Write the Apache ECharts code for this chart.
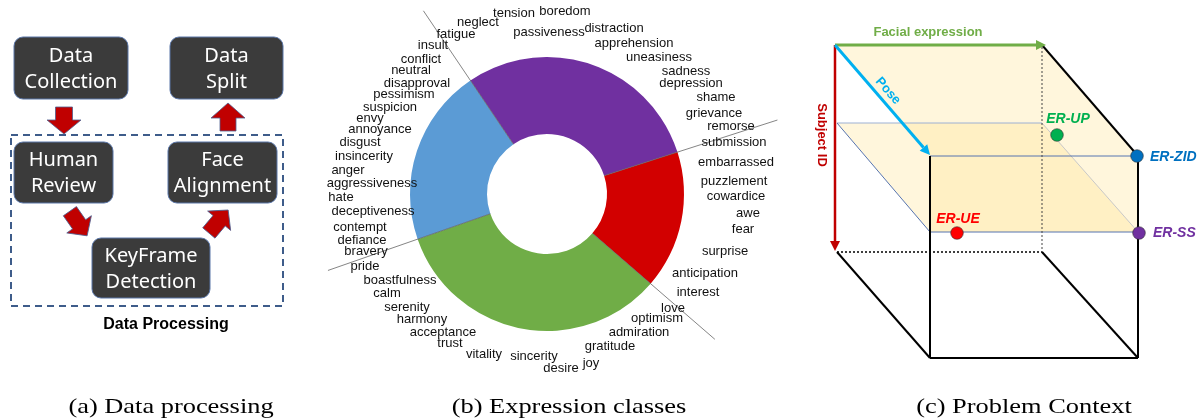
<!DOCTYPE html>
<html>
<head>
<meta charset="utf-8">
<title>Data processing / Expression classes / Problem context</title>
<script src="https://cdn.jsdelivr.net/npm/echarts@6/dist/echarts.min.js"></script>
<style>
  html, body { margin: 0; padding: 0; background: #fff; }
  #chart { width: 1198px; height: 419px; }
</style>
</head>
<body>
<div id="chart"></div>
<script>
// donut slices, clockwise from the upper-left divider
const classNames = ['purple', 'red', 'green', 'blue'];
const classShares = [29.5, 16.3, 33.3, 20.9];

// expression words around each slice
const purpleWords = ['neglect', 'fatigue', 'tension', 'boredom', 'passiveness', 'distraction', 'apprehension',
  'uneasiness', 'sadness', 'depression', 'shame', 'grievance', 'remorse'];
const redWords = ['submission', 'embarrassed', 'puzzlement', 'cowardice', 'awe', 'fear', 'surprise',
  'anticipation', 'interest'];
const greenWords = ['love', 'optimism', 'admiration', 'gratitude', 'joy', 'desire', 'sincerity', 'vitality',
  'trust', 'acceptance', 'harmony', 'serenity', 'calm', 'boastfulness', 'pride', 'bravery'];
const blueWords = ['defiance', 'contempt', 'deceptiveness', 'hate', 'aggressiveness', 'anger', 'insincerity',
  'disgust', 'annoyance', 'envy', 'suspicion', 'pessimism', 'disapproval', 'neutral', 'conflict', 'insult'];

// pipeline steps (panel a) and problem settings (panel c)
const steps = ['Data\nCollection', 'Data\nSplit', 'Human\nReview', 'Face\nAlignment', 'KeyFrame\nDetection'];
const settings = ['ER-UP', 'ER-ZID', 'ER-UE', 'ER-SS'];
const captions = ['(a) Data processing', '(b) Expression classes', '(c) Problem Context'];

// ---- styles / layout ----
const classColors = ['#7030A0', '#D20000', '#70AD47', '#5B9BD5'];
const pieCenter = [547, 194];
const pieRadius = [60, 137];
const pieStart = 124;
const dividerReach = [221, 242, 222, 232];

const wordPos = {
  neglect: [478, 22], fatigue: [456, 34], insult: [433, 45], conflict: [421, 59], neutral: [411, 70],
  disapproval: [417, 83], pessimism: [404, 94], suspicion: [390, 107], envy: [370, 118], annoyance: [380, 129],
  disgust: [360, 142], insincerity: [364, 156], anger: [348, 170], aggressiveness: [372, 183], hate: [341, 197],
  deceptiveness: [373, 211], contempt: [360, 227], defiance: [362, 240], bravery: [366, 251], pride: [365, 266],
  boastfulness: [400, 280], calm: [387, 293], serenity: [407, 307], harmony: [422, 319], acceptance: [443, 332],
  trust: [450, 343], vitality: [484, 354], sincerity: [534, 356], desire: [561, 368], joy: [591, 363],
  gratitude: [610, 346], admiration: [639, 332], optimism: [657, 318], love: [673, 308], interest: [698, 292],
  anticipation: [705, 273], surprise: [725, 251], fear: [743, 229], awe: [748, 213], cowardice: [736, 196],
  puzzlement: [734, 181], embarrassed: [736, 162], submission: [734, 142], remorse: [731, 126],
  grievance: [714, 113], shame: [716, 97], depression: [691, 83], sadness: [686, 71], uneasiness: [659, 57],
  apprehension: [634, 43], distraction: [614, 28], passiveness: [549, 32], tension: [514, 13], boredom: [565, 11]
};

const stepBoxes = [
  [14, 37, 114, 62], [170, 37, 113, 62], [14, 142, 99, 61], [168, 142, 109, 61], [92, 238, 118, 60]
];
const settingStyle = {
  'ER-UP': { dot: [1057, 135], label: [1068, 119], align: 'center', color: '#00B050' },
  'ER-ZID': { dot: [1137, 156], label: [1150, 157], align: 'left', color: '#0070C0' },
  'ER-UE': { dot: [957, 233], label: [958, 219], align: 'center', color: '#FF0000' },
  'ER-SS': { dot: [1139, 233], label: [1153, 233], align: 'left', color: '#7030A0' }
};

const els = [];
const txt = (x, y, text, font, fill, align, extra) => els.push(Object.assign({
  type: 'text', x, y, silent: true, z: 20,
  style: { text, font, fill, align: align || 'center', verticalAlign: 'middle' }
}, extra || {}));
const line = (x1, y1, x2, y2, stroke, lineWidth, dash) => {
  const st = { stroke, lineWidth };
  if (dash) st.lineDash = dash;
  els.push({ type: 'line', silent: true, z: 10, shape: { x1, y1, x2, y2 }, style: st });
};
const poly = (points, style, z) => els.push({ type: 'polygon', silent: true, z: z || 5, shape: { points }, style });

// arrow with a triangular head (panel c)
function arrow(x1, y1, x2, y2, color, w) {
  const len = Math.hypot(x2 - x1, y2 - y1);
  const ux = (x2 - x1) / len, uy = (y2 - y1) / len;
  const hl = 10, hw = 5;
  line(x1, y1, x2 - ux * hl, y2 - uy * hl, color, w);
  poly([[x2, y2], [x2 - ux * hl - uy * hw, y2 - uy * hl + ux * hw], [x2 - ux * hl + uy * hw, y2 - uy * hl - ux * hw]],
    { fill: color }, 12);
}

// block arrow (panel a), centered at x,y, pointing along rotation
function blockArrow(x, y, rot, L, s, h, hl) {
  els.push({
    type: 'polygon', silent: true, z: 8, x, y, rotation: rot,
    shape: { points: [[-L / 2, -s], [L / 2 - hl, -s], [L / 2 - hl, -h], [L / 2, 0], [L / 2 - hl, h], [L / 2 - hl, s], [-L / 2, s]] },
    style: { fill: '#C00000', stroke: '#4F5F8F', lineWidth: 0.8 }
  });
}

// ---- panel (a) ----
els.push({
  type: 'rect', silent: true, z: 4, shape: { x: 11, y: 135, width: 272, height: 171 },
  style: { fill: 'none', stroke: '#3E5C8A', lineWidth: 2, lineDash: [7, 5] }
});
steps.forEach((s, i) => {
  const b = stepBoxes[i];
  els.push({
    type: 'rect', silent: true, z: 6, shape: { x: b[0], y: b[1], width: b[2], height: b[3], r: 9 },
    style: { fill: '#3B3B3B', stroke: '#5A76A8', lineWidth: 1 }
  });
  els.push({
    type: 'text', silent: true, z: 7, x: b[0] + b[2] / 2, y: b[1] + b[3] / 2 + 1,
    style: { text: s, font: '20px "Noto Sans"', fill: '#fff', align: 'center', verticalAlign: 'middle', lineHeight: 26 }
  });
});
const deg = Math.PI / 180;
blockArrow(64, 120.5, -90 * deg, 27, 8.5, 17, 14);
blockArrow(228, 117, 90 * deg, 28, 8, 17, 15);
blockArrow(78.5, 223.5, -55 * deg, 30, 8, 15, 14);
blockArrow(218.5, 221.5, 50 * deg, 30, 8, 15, 14);
txt(166, 325, 'Data Processing', 'bold 16px "Liberation Sans"', '#000');

// ---- panel (b): divider lines & words ----
const total = classShares.reduce((a, v) => a + v, 0);
let ang = pieStart;
classShares.forEach((v, i) => {
  const c = Math.cos(ang * deg), s = Math.sin(ang * deg);
  line(pieCenter[0] + pieRadius[0] * c, pieCenter[1] - pieRadius[0] * s,
    pieCenter[0] + dividerReach[i] * c, pieCenter[1] - dividerReach[i] * s, '#666', 0.8);
  ang -= v / total * 360;
});
[purpleWords, redWords, greenWords, blueWords].forEach(list => list.forEach(w => {
  const p = wordPos[w];
  txt(p[0], p[1], w, '13px "Liberation Sans"', '#111');
}));

// ---- panel (c) ----
const fill = { fill: 'rgba(255,224,140,0.30)' };
poly([[835, 45], [1042, 45], [1138, 156], [930, 156]], fill, 2);
poly([[837, 123], [1042, 123], [1138, 232], [930, 232]], fill, 2);
poly([[930, 156], [1138, 156], [1138, 232], [930, 232]], fill, 2);

line(837, 123, 1042, 123, '#9DB0D3', 1);
line(1042, 123, 1138, 232, '#C8C8C8', 1);
line(837, 123, 930, 232, '#5674B0', 1);
line(930, 232, 1138, 232, '#5674B0', 1);
line(930, 156, 1138, 156, '#5674B0', 1);

line(1042, 45, 1138, 156, '#000', 2);
line(1138, 156, 1138, 358, '#000', 2);
line(930, 156, 930, 358, '#000', 2);
line(930, 358, 1138, 358, '#000', 2);
line(837, 252, 930, 358, '#000', 2);
line(1042, 252, 1138, 358, '#000', 2);
line(837, 252, 1042, 252, '#000', 1.5, [2, 2]);
line(1042, 47, 1042, 252, '#444', 1, [2, 2]);

arrow(835, 45, 1046, 45, '#70AD47', 3);
arrow(835, 45, 835, 251, '#C00000', 2.5);
arrow(835, 45, 930, 155, '#00B0F0', 3);

txt(928, 32, 'Facial expression', 'bold 13px "Liberation Sans"', '#70AD47');
txt(888, 91, 'Pose', 'bold 13px "Liberation Sans"', '#00B0F0', 'center', { rotation: -49 * deg });
txt(822, 135, 'Subject ID', 'bold 13px "Liberation Sans"', '#C00000', 'center', { rotation: -90 * deg });

settings.forEach(n => {
  const st = settingStyle[n];
  els.push({
    type: 'circle', silent: true, z: 15, shape: { cx: st.dot[0], cy: st.dot[1], r: 6.3 },
    style: { fill: st.color, stroke: '#333', lineWidth: 0.6 }
  });
  txt(st.label[0], st.label[1], n, 'italic bold 14px "Liberation Sans"', st.color, st.align);
});

// ---- captions ----
[171, 569, 1024].forEach((x, i) => {
  txt(x, 407, captions[i], '22px "Liberation Serif"', '#000', 'center', { scaleX: 1.2 });
});

const chart = echarts.init(document.getElementById('chart'));
chart.setOption({
  animation: false,
  series: [{
    type: 'pie',
    center: pieCenter,
    radius: pieRadius,
    startAngle: pieStart,
    clockwise: true,
    silent: true,
    label: { show: false },
    labelLine: { show: false },
    emphasis: { disabled: true },
    data: classNames.map((n, i) => ({ name: n, value: classShares[i], itemStyle: { color: classColors[i] } }))
  }],
  graphic: { elements: els }
});
</script>
</body>
</html>
